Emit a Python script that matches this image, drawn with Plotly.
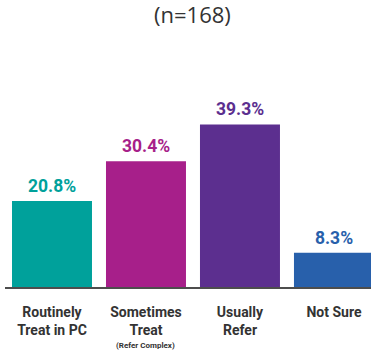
import plotly.graph_objects as go

# Survey responses: how respondents handle the condition
categories = ["Routinely Treat in PC", "Sometimes Treat", "Usually Refer", "Not Sure"]
tick_labels = [
    "Routinely<br>Treat in PC",
    "Sometimes<br>Treat",
    "Usually<br>Refer",
    "Not Sure",
]
sub_note = {"Sometimes Treat": "(Refer Complex)"}
percentages = [20.8, 30.4, 39.3, 8.3]
bar_colors = ["#00A19B", "#A71F8A", "#5C2F8F", "#2860AB"]
sample_note = "(n=168)"

label_font = "Roboto, sans-serif"
plot_h = 187  # plot area height in px, used to place paper-relative notes

fig = go.Figure(
    go.Bar(
        x=categories,
        y=percentages,
        marker=dict(color=bar_colors, line=dict(width=0)),
        hoverinfo="skip",
    )
)

# Value labels above each bar, coloured like the bar
for cat, val, col in zip(categories, percentages, bar_colors):
    fig.add_annotation(
        x=cat, y=val, xref="x", yref="y",
        text=f"<b>{val:.1f}%</b>",
        showarrow=False, yanchor="bottom", yshift=3,
        font=dict(family=label_font, size=17.5, color=col),
    )

# Small qualifier under a category label
for cat, note in sub_note.items():
    fig.add_annotation(
        x=cat, y=-(345 - 287) / plot_h, xref="x", yref="paper",
        text=f"<b>{note}</b>", showarrow=False, yanchor="middle",
        font=dict(family=label_font, size=8, color="#333333"),
    )

fig.add_annotation(
    x=1.5, y=1 + (100 - 14) / plot_h, xref="x", yref="paper",
    text=sample_note, showarrow=False, yanchor="middle",
    font=dict(family="Open Sans, sans-serif", size=22, color="#333333"),
)

fig.update_layout(
    width=371, height=356,
    margin=dict(l=5, r=0, t=100, b=69),
    paper_bgcolor="white", plot_bgcolor="white",
    bargap=14 / 94,
    showlegend=False,
    xaxis=dict(
        range=[-0.5, 3.394],
        tickmode="array", tickvals=categories, ticktext=[f"<b>{t}</b>" for t in tick_labels],
        tickfont=dict(family=label_font, size=14, color="#333333"),
        showline=True, linecolor="#4d4d4d", linewidth=2,
        ticks="", ticklabelstandoff=11,
        showgrid=False, zeroline=False, fixedrange=True,
    ),
    yaxis=dict(
        range=[0, 45.2], visible=False, showgrid=False, zeroline=False, fixedrange=True,
    ),
)

fig.write_html("out.html")
